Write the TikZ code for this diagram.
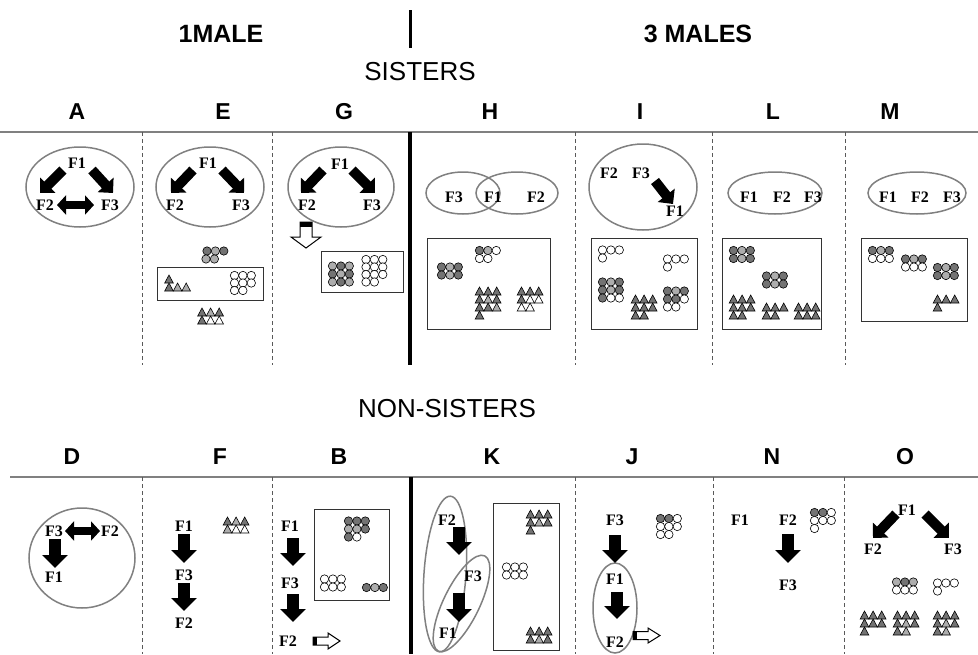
\documentclass[tikz,border=0pt]{standalone}
\usepackage{fontspec}
\setmainfont{Liberation Serif}
\setsansfont{Liberation Sans}
\usetikzlibrary{arrows.meta}
\definecolor{cg}{gray}{0.45}
\definecolor{ch}{gray}{0.68}
\definecolor{cw}{gray}{1}
\newcommand\crow[3]{\foreach \cl [count=\ii from 0] in {#3} {\draw[cbub, fill=\cl] ({#1+\ii*8.4},#2) circle[radius=4.2];}}
\newcommand\trow[3]{\foreach \cl [count=\ii from 0] in {#3} {\draw[cbub, fill=\cl] ({#1+\ii*8.6-4.3},{#2+4}) -- ++(8.6,0) -- ++(-4.3,-8) -- cycle;}}
\begin{document}
\begin{tikzpicture}[x=1pt,y=-1pt,
 hdrb/.style={font=\sffamily\bfseries\fontsize{25}{25}\selectfont, inner sep=0},
 hdrs/.style={font=\sffamily\fontsize{26}{26}\selectfont, inner sep=0},
 colh/.style={font=\sffamily\bfseries\fontsize{23}{23}\selectfont, inner sep=0},
 fl/.style={font=\bfseries\fontsize{16}{16}\selectfont, inner sep=0},
 ellp/.style={draw=black!50, line width=1.5pt},
 panelbox/.style={draw=black!80, line width=1pt},
 cbub/.style={draw=black, line width=0.6pt},
 hrule/.style={draw=black!50, line width=1.5pt},
 dashv/.style={draw=black!65, line width=1pt, dash pattern=on 4pt off 3pt},
 thickv/.style={draw=black, line width=4pt},
 barr/.style={line width=10pt, -{Triangle[length=11pt,width=21pt]}},
 varr/.style={line width=12pt, -{Triangle[length=13pt,width=25pt]}},
 darr/.style={line width=8pt, {Triangle[length=9pt,width=19pt]}-{Triangle[length=9pt,width=19pt]}},
 oarr/.style={draw=black, fill=white, line width=1pt},
]
\useasboundingbox (0,0) rectangle (978,654);
\fill[white] (0,0) rectangle (978,654);

% ---------- headings ----------
\node[hdrb] (h1) at (221,34) {1MALE};
\node[hdrb] (h3) at (698,34) {3 MALES};
\draw[line width=3pt] (410,10) -- (410,48);
\node[hdrs] (sis) at (420,71.5) {SISTERS};
\node[hdrs] (nsis) at (447,408.5) {NON-SISTERS};

\foreach \t/\x in {A/77,E/223,G/344,H/490,I/640,L/773,M/890}
  \node[colh] (top\t) at (\x,111.5) {\t};
\foreach \t/\x in {D/72,F/220,B/339,K/492,J/632,N/772,O/905}
  \node[colh] (bot\t) at (\x,456.5) {\t};

\draw[hrule] (0,132) -- (978,132);
\draw[hrule] (10,477) -- (978,477);
\foreach \x in {142,272,575,712,845} \draw[dashv] (\x,132) -- (\x,365);
\foreach \x in {142,272,575,713,844} \draw[dashv] (\x,477) -- (\x,654);
\draw[thickv] (410,132) -- (410,365);
\draw[thickv] (411,477) -- (411,654);

% ---------- A ----------
\draw[ellp] (80,187) ellipse[x radius=54, y radius=40];
\node[fl] (aF1) at (77,163) {F1};
\node[fl] (aF2) at (45,205) {F2};
\node[fl] (aF3) at (110,205) {F3};
\coordinate (aL1) at (63,170); \coordinate (aL2) at (40,193);
\coordinate (aR1) at (92,170); \coordinate (aR2) at (113,193);
\draw[barr] (aL1) -- (aL2);
\draw[barr] (aR1) -- (aR2);
\coordinate (aD1) at (57,205); \coordinate (aD2) at (94,205);
\draw[darr] (aD1) -- (aD2);

% ---------- E ----------
\draw[ellp] (210,187) ellipse[x radius=54, y radius=40];
\node[fl] (eF1) at (208,163) {F1};
\node[fl] (eF2) at (175,205) {F2};
\node[fl] (eF3) at (241,205) {F3};
\coordinate (eL1) at (193,170); \coordinate (eL2) at (171,193);
\coordinate (eR1) at (222,170); \coordinate (eR2) at (244,193);
\draw[barr] (eL1) -- (eL2);
\draw[barr] (eR1) -- (eR2);
\crow{207}{251}{cg,ch,cg}
\crow{206}{259}{ch,ch}
\draw[panelbox] (157,267) rectangle (263,300);
\trow{169}{279}{cg}
\trow{169}{287}{cg,ch,ch}
\crow{234.5}{275.5}{cw,cw,cw}
\crow{234.5}{283}{cw,cw,cw}
\crow{234.5}{290.5}{cw,cw}
\trow{202}{312}{cg,ch,cg}
\trow{202}{320}{cg,cw,cw}

% ---------- G ----------
\draw[ellp] (341,187) ellipse[x radius=53, y radius=40];
\node[fl] (gF1) at (340,164) {F1};
\node[fl] (gF2) at (307,205) {F2};
\node[fl] (gF3) at (372,205) {F3};
\coordinate (gL1) at (323,170); \coordinate (gL2) at (301,193);
\coordinate (gR1) at (352,170); \coordinate (gR2) at (375,193);
\draw[barr] (gL1) -- (gL2);
\draw[barr] (gR1) -- (gR2);
\draw[oarr] (300,222) -- (312,222) -- (312,237) -- (321,237) -- (306,248) -- (291,237) -- (300,237) -- cycle;
\fill (300,222) rectangle (312,226.5);
\draw[panelbox] (321,251) rectangle (403,292);
\crow{332.5}{266}{ch,cg,ch}
\crow{332.5}{274}{cg,ch,cg}
\crow{332.5}{282}{ch,cg,ch}
\crow{366}{259.5}{cw,cw,cw}
\crow{366}{267}{cw,cw,cw}
\crow{366}{274.5}{cw,cw,cw}
\crow{366}{282}{cw,cw}

% ---------- H ----------
\draw[ellp] (463,193) ellipse[x radius=37, y radius=21];
\draw[ellp] (517,193) ellipse[x radius=41, y radius=21];
\node[fl] (hF3) at (454,197) {F3};
\node[fl] (hF1) at (493,197) {F1};
\node[fl] (hF2) at (536,197) {F2};
\draw[panelbox] (427,238) rectangle (550,329);
\crow{441.5}{267}{cg,ch,cg}
\crow{441.5}{275}{cg,ch,cg}
\crow{479.5}{250.5}{cg,ch,cw}
\crow{479.5}{258.5}{cw,cw}
\trow{479.5}{291}{cg,cg,cg}
\trow{479.5}{299}{cg,ch,cg}
\trow{479.5}{307}{cg,cg,ch}
\trow{479.5}{315}{cg}
\trow{521.5}{291}{cg,cg,cg}
\trow{521.5}{299}{cg,cw,cw}
\trow{521.5}{307}{cw,cw}

% ---------- I ----------
\draw[ellp] (643,187) ellipse[x radius=54, y radius=43];
\node[fl] (iF2) at (609,173) {F2};
\node[fl] (iF3) at (641,173) {F3};
\node[fl] (iF1) at (675,211) {F1};
\coordinate (iA1) at (655,181); \coordinate (iA2) at (673,204);
\draw[barr] (iA1) -- (iA2);
\draw[panelbox] (591,238) rectangle (697,329);
\crow{602.5}{250}{cw,cw,cw}
\crow{602.5}{258}{cw}
\crow{667.5}{259}{cw,cw,cw}
\crow{667.5}{267}{cw}
\crow{602.5}{282}{cg,ch,cg}
\crow{602.5}{290}{cg,ch,cg}
\crow{602.5}{298}{cg,cw,cw}
\trow{635.5}{299}{cg,cg,cg}
\trow{635.5}{307}{cg,cg,cg}
\trow{635.5}{315}{cg,cg}
\crow{667.5}{291}{cg,ch,cg}
\crow{667.5}{299}{cg,cg,cw}
\crow{667.5}{307}{cw,cw}

% ---------- L ----------
\draw[ellp] (775,193) ellipse[x radius=47, y radius=21];
\node[fl] (lF1) at (749,197) {F1};
\node[fl] (lF2) at (782,197) {F2};
\node[fl] (lF3) at (813,197) {F3};
\draw[panelbox] (722,238) rectangle (821,329);
\crow{733.5}{250.5}{cg,ch,cg}
\crow{733.5}{258.5}{cg,ch,cg}
\crow{766.5}{276}{cg,ch,cg}
\crow{766.5}{284}{cg,ch,cg}
\trow{733.5}{299}{cg,cg,cg}
\trow{733.5}{307}{cg,cg,cg}
\trow{733.5}{315}{cg,cg}
\trow{766.5}{307}{cg,cg,cg}
\trow{766.5}{315}{cg,cg}
\trow{798.5}{307}{cg,cg,cg}
\trow{798.5}{315}{cg,cg,cg}

% ---------- M ----------
\draw[ellp] (917,193) ellipse[x radius=49, y radius=21];
\node[fl] (mF1) at (888,197) {F1};
\node[fl] (mF2) at (920,197) {F2};
\node[fl] (mF3) at (952,197) {F3};
\draw[panelbox] (861,238) rectangle (967,321);
\crow{872.5}{250.5}{cg,ch,cg}
\crow{872.5}{258.5}{cw,cw,cw}
\crow{905.5}{259}{cg,ch,cg}
\crow{905.5}{267}{cw,cw,cw}
\crow{937.5}{267.5}{cg,ch,cg}
\crow{937.5}{275.5}{cg,ch,cg}
\trow{937.5}{299}{cg,cg,cg}
\trow{937.5}{307}{cg}

% ---------- D ----------
\draw[ellp] (82,558) ellipse[x radius=53, y radius=50];
\node[fl] (dF3) at (54,531) {F3};
\node[fl] (dF2) at (110,531) {F2};
\node[fl] (dF1) at (54,577) {F1};
\coordinate (dD1) at (65,531); \coordinate (dD2) at (100,531);
\draw[darr] (dD1) -- (dD2);
\coordinate (dV1) at (55,539); \coordinate (dV2) at (55,568);
\draw[varr] (dV1) -- (dV2);

% ---------- F ----------
\node[fl] (fF1) at (184,526) {F1};
\node[fl] (fF3) at (184,575) {F3};
\node[fl] (fF2) at (184,623) {F2};
\coordinate (fV1) at (184,534); \coordinate (fV2) at (184,563);
\coordinate (fV3) at (184,583); \coordinate (fV4) at (184,611);
\draw[varr] (fV1) -- (fV2);
\draw[varr] (fV3) -- (fV4);
\trow{227.5}{521}{cg,ch,cg}
\trow{227.5}{529}{ch,cw,cw}

% ---------- B ----------
\node[fl] (bF1) at (290,526) {F1};
\node[fl] (bF3) at (290,583) {F3};
\node[fl] (bF2) at (288,641) {F2};
\coordinate (bV1) at (293,538); \coordinate (bV2) at (293,566);
\coordinate (bV3) at (293,594); \coordinate (bV4) at (293,622);
\draw[varr] (bV1) -- (bV2);
\draw[varr] (bV3) -- (bV4);
\draw[oarr] (313,637) -- (328,637) -- (328,633) -- (340,641) -- (328,649) -- (328,645) -- (313,645) -- cycle;
\fill (313,637) rectangle (317,645);
\draw[panelbox] (314,509) rectangle (389,600);
\crow{348.5}{521}{cg,cg,cg}
\crow{348.5}{529}{ch,ch,cg}
\crow{348.5}{537}{cg,cw}
\crow{324.5}{579}{cw,cw,cw}
\crow{324.5}{587}{cw,cw,cw}
\crow{366.5}{587.5}{cg,ch,cg}

% ---------- K ----------
\draw[ellp, rotate around={-4:(445,574)}] (445,574) ellipse[x radius=21, y radius=78];
\draw[ellp, rotate around={-26:(461.5,603.5)}] (461.5,603.5) ellipse[x radius=18, y radius=53];
\node[fl] (kF2) at (447,520) {F2};
\node[fl] (kF3) at (473,576) {F3};
\node[fl] (kF1) at (448,633) {F1};
\coordinate (kV1) at (459,527); \coordinate (kV2) at (459,555);
\coordinate (kV3) at (459,593); \coordinate (kV4) at (459,622);
\draw[varr] (kV1) -- (kV2);
\draw[varr] (kV3) -- (kV4);
\draw[panelbox] (493,503) rectangle (559,650);
\trow{530.5}{514}{cg,cg,cg}
\trow{530.5}{522}{cg,ch,cg}
\trow{530.5}{530}{cg}
\crow{506.5}{567}{cw,cw,cw}
\crow{506.5}{575}{cw,cw,cw}
\trow{530.5}{631}{cg,cg,cg}
\trow{530.5}{639}{cg,ch,cg}

% ---------- J ----------
\node[fl] (jF3) at (615,520) {F3};
\node[fl] (jF1) at (615,579) {F1};
\node[fl] (jF2) at (615,642) {F2};
\draw[ellp] (615,608) ellipse[x radius=22, y radius=45];
\coordinate (jV1) at (615,535); \coordinate (jV2) at (615,563);
\coordinate (jV3) at (617,592); \coordinate (jV4) at (617,619);
\draw[varr] (jV1) -- (jV2);
\draw[varr] (jV3) -- (jV4);
\draw[oarr] (633,631.5) -- (648,631.5) -- (648,628) -- (660,635.5) -- (648,643) -- (648,639.5) -- (633,639.5) -- cycle;
\fill (633,631.5) rectangle (637,639.5);
\crow{660.5}{518.5}{cg,cg,cw}
\crow{660.5}{526.5}{cw,cw,cw}
\crow{660.5}{534.5}{cw,cw}

% ---------- N ----------
\node[fl] (nF1) at (740,520) {F1};
\node[fl] (nF2) at (788,520) {F2};
\node[fl] (nF3) at (788,585) {F3};
\coordinate (nV1) at (788,534); \coordinate (nV2) at (788,563);
\draw[varr] (nV1) -- (nV2);
\crow{814.5}{512.5}{cg,cg,cw}
\crow{814.5}{520.5}{cw,cw,cw}
\crow{814.5}{528.5}{cw}

% ---------- O ----------
\node[fl] (oF1) at (907,510) {F1};
\node[fl] (oF2) at (873,549) {F2};
\node[fl] (oF3) at (953,549) {F3};
\coordinate (oL1) at (896,514); \coordinate (oL2) at (873,538);
\coordinate (oR1) at (925,514); \coordinate (oR2) at (949,538);
\draw[barr] (oL1) -- (oL2);
\draw[barr] (oR1) -- (oR2);
\crow{896.5}{582}{ch,cg,ch}
\crow{896.5}{590}{cw,cw,cw}
\crow{937.5}{583}{cw,cw,cw}
\crow{937.5}{591}{cw}
\trow{864.5}{615}{cg,cg,cg}
\trow{864.5}{623}{cg,cg,cg}
\trow{864.5}{631}{cg}
\trow{897.5}{615}{cg,cg,cg}
\trow{897.5}{623}{cg,ch,cg}
\trow{897.5}{631}{cg,ch}
\trow{937.5}{615}{cg,cg,cg}
\trow{937.5}{623}{cg,ch,cg}
\trow{937.5}{631}{cg,ch}
\end{tikzpicture}
\end{document}
